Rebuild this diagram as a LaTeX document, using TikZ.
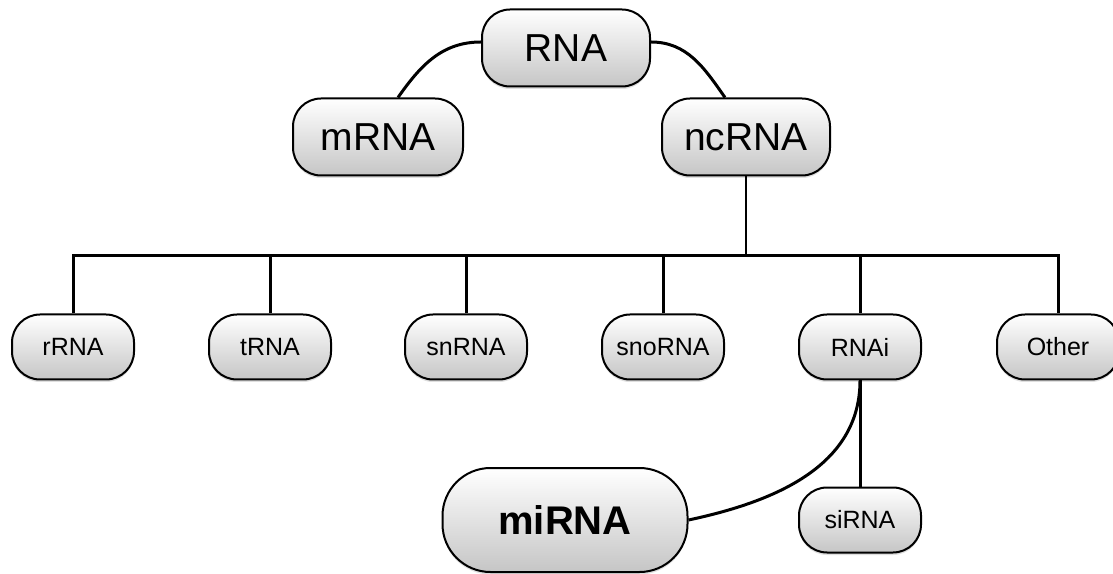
\documentclass[tikz,border=0pt]{standalone}
\usepackage{fontspec}
\setmainfont{Liberation Sans}
\usetikzlibrary{shadows}
\newcommand{\rnasize}[1]{\fontsize{#1}{#1}\selectfont}
\tikzset{
  rnabox/.style={draw,line width=2pt,rounded corners=28pt,inner sep=0pt,
    top color=white,bottom color=gray!45,
    drop shadow={opacity=.25,shadow xshift=0pt,shadow yshift=-2.5pt}},
  bigbox/.style={rnabox,minimum width=168pt,minimum height=77pt,font=\rnasize{39}},
  smallbox/.style={rnabox,minimum width=122pt,minimum height=65pt,font=\rnasize{25}},
  link/.style={line width=3pt},
}

\begin{document}
\begin{tikzpicture}[x=1pt,y=1pt]
  \useasboundingbox (0,0) rectangle (1113,573);
  \node[bigbox] (RNA) at (566,525) {RNA};
  \node[bigbox,minimum width=170pt] (mRNA) at (378,436) {mRNA};
  \node[bigbox] (ncRNA) at (746,436) {ncRNA};
  % the six kinds of ncRNA
  \foreach \name/\x in {rRNA/73,tRNA/270,snRNA/466,snoRNA/663,RNAi/860,Other/1058}
    \node[smallbox] (\name) at (\x,226) {\name};
  \node[rnabox,minimum width=245pt,minimum height=104pt,rounded corners=48pt,
    font=\bfseries\rnasize{40}] (miRNA) at (565,53) {miRNA};
  \node[smallbox] (siRNA) at (860,53) {siRNA};

  \draw[link] ([yshift=6pt]RNA.west) to[out=180,in=55] ([xshift=20pt]mRNA.north);
  \draw[link] ([yshift=6pt]RNA.east) to[out=0,in=125] ([xshift=-21pt]ncRNA.north);

  \coordinate (bar) at (0,317);
  \draw[line width=2pt] (ncRNA.south) -- (ncRNA.south |- bar);
  \draw[link] (rRNA.north) |- (Other.north |- bar) -- (Other.north);
  \foreach \name in {tRNA,snRNA,snoRNA,RNAi}
    \draw[link] (\name.north) -- (\name.north |- bar);

  \draw[link] (RNAi.south) -- (siRNA.north);
  \draw[link] (RNAi.south) to[out=-90,in=12] (miRNA.east);
\end{tikzpicture}
\end{document}
